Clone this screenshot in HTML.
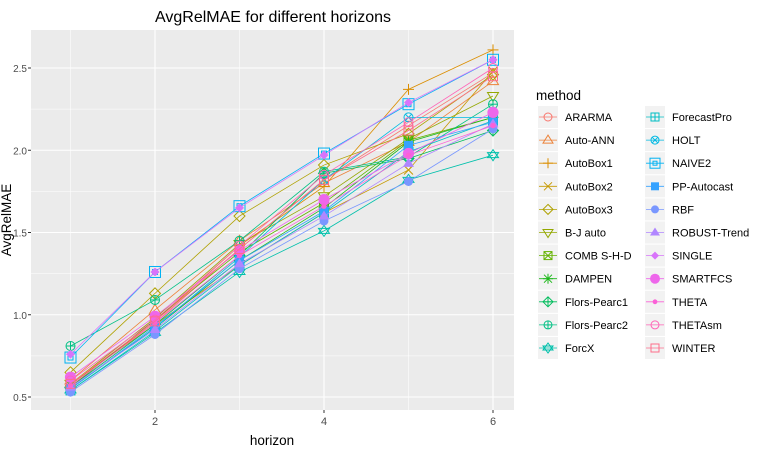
<!DOCTYPE html>
<html><head><meta charset="utf-8"><style>
body{margin:0;background:#fff;font-family:"Liberation Sans",sans-serif}
</style></head><body>
<svg id="c" width="777" height="456" xmlns="http://www.w3.org/2000/svg"></svg>
<script>
const methods=["ARARMA","Auto-ANN","AutoBox1","AutoBox2","AutoBox3","B-J auto","COMB S-H-D","DAMPEN","Flors-Pearc1","Flors-Pearc2","ForcX","ForecastPro","HOLT","NAIVE2","PP-Autocast","RBF","ROBUST-Trend","SINGLE","SMARTFCS","THETA","THETAsm","WINTER"];
const horizons=[1,2,3,4,5,6];
const s_ARARMA=[0.58,0.95,1.40,1.82,2.15,2.47];
const s_AutoANN=[0.60,1.03,1.45,1.80,2.05,2.42];
const s_AutoBox1=[0.57,0.96,1.42,1.78,2.37,2.61];
const s_AutoBox2=[0.58,0.94,1.30,1.62,1.88,2.48];
const s_AutoBox3=[0.65,1.13,1.60,1.91,2.10,2.46];
const s_BJ=[0.58,0.98,1.43,1.72,2.07,2.33];
const s_COMB=[0.56,0.97,1.38,1.68,2.06,2.20];
const s_DAMPEN=[0.55,0.92,1.33,1.65,2.05,2.20];
const s_FP1=[0.56,0.94,1.36,1.86,1.95,2.12];
const s_FP2=[0.81,1.09,1.45,1.87,1.96,2.28];
const s_ForcX=[0.54,0.89,1.26,1.51,1.82,1.97];
const s_ForecastPro=[0.54,0.90,1.30,1.62,1.99,2.18];
const s_HOLT=[0.55,0.92,1.35,1.82,2.20,2.20];
const s_NAIVE2=[0.74,1.26,1.66,1.98,2.28,2.55];
const s_PP=[0.55,0.93,1.33,1.63,2.03,2.17];
const s_RBF=[0.53,0.88,1.28,1.57,1.81,2.13];
const s_ROBUST=[0.56,0.91,1.31,1.60,1.92,2.16];
const s_SINGLE=[0.76,1.26,1.65,1.97,2.29,2.55];
const s_SMARTFCS=[0.62,0.99,1.39,1.70,1.98,2.23];
const s_THETA=[0.57,0.95,1.36,1.66,1.97,2.15];
const s_THETAsm=[0.60,0.97,1.42,1.85,2.17,2.50];
const s_WINTER=[0.58,0.96,1.40,1.82,2.12,2.45];
const series=[s_ARARMA,s_AutoANN,s_AutoBox1,s_AutoBox2,s_AutoBox3,s_BJ,s_COMB,s_DAMPEN,s_FP1,s_FP2,s_ForcX,s_ForecastPro,s_HOLT,s_NAIVE2,s_PP,s_RBF,s_ROBUST,s_SINGLE,s_SMARTFCS,s_THETA,s_THETAsm,s_WINTER];
const yTicks=[0.5,1.0,1.5,2.0,2.5];
const xTicks=[2,4,6];
const shapes=["circle","tri","plus","cross","diamond","dtri","sqcross","asterisk","diamplus","circplus","star","sqplus","circcross","sqsq","fsquare","fcircle","ftri","fdiamond","bigcircle","smallcircle","circle","square"];
const palette=["#F8766D","#EC8239","#DB8E00","#C69900","#AFA100","#94A800","#64B200","#1CB81A","#00BD5C","#00C084","#00C0AB","#00BFC4","#00B9E3","#00B2F3","#35A2FF","#7997FF","#B086FF","#D874FA","#EE67EB","#FB61D7","#FF63B6","#FE6D8B"];

const NS="http://www.w3.org/2000/svg";
const svg=document.getElementById('c');
const P={l:31,r:514,t:30,b:410};
const xs=v=>70.5+(v-1)*84.5;
const ys=v=>397-(v-0.5)*164.5;
function el(t,a,p){const e=document.createElementNS(NS,t);for(const k in a)e.setAttribute(k,a[k]);(p||svg).appendChild(e);return e;}
const color=i=>palette[i];
el('rect',{x:P.l,y:P.t,width:P.r-P.l,height:P.b-P.t,fill:'#EBEBEB'});
for(let v=0.75;v<2.7;v+=0.5){const y=ys(v);if(y>P.t&&y<P.b)el('line',{x1:P.l,x2:P.r,y1:y,y2:y,stroke:'#fff','stroke-width':0.55});}
[1,3,5].forEach(v=>el('line',{x1:xs(v),x2:xs(v),y1:P.t,y2:P.b,stroke:'#fff','stroke-width':0.55}));
yTicks.forEach(v=>{const y=ys(v);el('line',{x1:P.l,x2:P.r,y1:y,y2:y,stroke:'#fff','stroke-width':1.1});
 el('line',{x1:P.l-3,x2:P.l,y1:y,y2:y,stroke:'#333','stroke-width':1});
 const t=el('text',{x:P.l-4,y:y+4,'text-anchor':'end','font-size':10,fill:'#4D4D4D'});t.textContent=v.toFixed(1);
 });
xTicks.forEach(v=>{const x=xs(v);el('line',{x1:x,x2:x,y1:P.t,y2:P.b,stroke:'#fff','stroke-width':1.1});
 el('line',{x1:x,x2:x,y1:P.b,y2:P.b+3,stroke:'#333','stroke-width':1});
 const t=el('text',{x:x,y:P.b+15,'text-anchor':'middle','font-size':11,fill:'#4D4D4D'});t.textContent=v;
 });
function shape(g,s,x,y,c,r){
 r=r||4.5;
 const w={stroke:c,fill:'none','stroke-width':1};
 const ln=(a,b,cc,d)=>el('line',Object.assign({x1:a,y1:b,x2:cc,y2:d},w),g);
 const q=r*0.7;
 switch(s){
 case 'circle':el('circle',Object.assign({cx:x,cy:y,r:r},w),g);break;
 case 'tri':el('polygon',Object.assign({points:`${x},${y-r-1} ${x-r-1},${y+r-1} ${x+r+1},${y+r-1}`},w),g);break;
 case 'dtri':el('polygon',Object.assign({points:`${x},${y+r+1} ${x-r-1},${y-r+1} ${x+r+1},${y-r+1}`},w),g);break;
 case 'plus':ln(x-r-1,y,x+r+1,y);ln(x,y-r-1,x,y+r+1);break;
 case 'cross':ln(x-r,y-r,x+r,y+r);ln(x-r,y+r,x+r,y-r);break;
 case 'asterisk':ln(x-r,y-r,x+r,y+r);ln(x-r,y+r,x+r,y-r);ln(x-r-1,y,x+r+1,y);ln(x,y-r-1,x,y+r+1);break;
 case 'diamond':el('polygon',Object.assign({points:`${x},${y-r-1} ${x+r+1},${y} ${x},${y+r+1} ${x-r-1},${y}`},w),g);break;
 case 'diamplus':el('polygon',Object.assign({points:`${x},${y-r-1} ${x+r+1},${y} ${x},${y+r+1} ${x-r-1},${y}`},w),g);ln(x-r-1,y,x+r+1,y);ln(x,y-r-1,x,y+r+1);break;
 case 'circplus':el('circle',Object.assign({cx:x,cy:y,r:r},w),g);ln(x-r,y,x+r,y);ln(x,y-r,x,y+r);break;
 case 'circcross':el('circle',Object.assign({cx:x,cy:y,r:r},w),g);ln(x-q,y-q,x+q,y+q);ln(x-q,y+q,x+q,y-q);break;
 case 'square':el('rect',Object.assign({x:x-r,y:y-r,width:2*r,height:2*r},w),g);break;
 case 'sqcross':el('rect',Object.assign({x:x-r,y:y-r,width:2*r,height:2*r},w),g);ln(x-r,y-r,x+r,y+r);ln(x-r,y+r,x+r,y-r);break;
 case 'sqplus':el('rect',Object.assign({x:x-r,y:y-r,width:2*r,height:2*r},w),g);ln(x-r,y,x+r,y);ln(x,y-r,x,y+r);break;
 case 'sqsq':el('rect',Object.assign({x:x-r-1,y:y-r-1,width:2*r+2,height:2*r+2},w),g);el('rect',Object.assign({x:x-r+2,y:y-r+2,width:2*r-4,height:2*r-4},w),g);break;
 case 'star':el('polygon',Object.assign({points:`${x},${y-r-1} ${x-r-1},${y+r-2} ${x+r+1},${y+r-2}`},w),g);el('polygon',Object.assign({points:`${x},${y+r+1} ${x-r-1},${y-r+2} ${x+r+1},${y-r+2}`},w),g);break;
 case 'fsquare':el('rect',{x:x-r,y:y-r,width:2*r,height:2*r,fill:c},g);break;
 case 'fcircle':el('circle',{cx:x,cy:y,r:r,fill:c},g);break;
 case 'ftri':el('polygon',{points:`${x},${y-r-1} ${x-r-1},${y+r-1} ${x+r+1},${y+r-1}`,fill:c},g);break;
 case 'fdiamond':el('polygon',{points:`${x},${y-r} ${x+r},${y} ${x},${y+r} ${x-r},${y}`,fill:c},g);break;
 case 'bigcircle':el('circle',{cx:x,cy:y,r:r*1.25,fill:c},g);break;
 case 'smallcircle':el('circle',{cx:x,cy:y,r:r*0.6,fill:c},g);break;
 }
}
series.forEach((d,i)=>{
 const c=color(i);
 const g=el('g',{});
 
 
 el('polyline',{points:d.map((v,j)=>xs(horizons[j])+','+ys(v)).join(' '),fill:'none',stroke:c,'stroke-width':0.8},g);
 d.forEach((v,j)=>shape(g,shapes[i],xs(horizons[j]),ys(v),c));
});
let t=el('text',{x:273,y:22,'text-anchor':'middle','font-size':16,fill:'#000'});t.textContent='AvgRelMAE for different horizons';

t=el('text',{x:272,y:445,'text-anchor':'middle','font-size':13.5,fill:'#000'});t.textContent='horizon';

t=el('text',{x:0,y:0,'text-anchor':'middle','font-size':13.5,fill:'#000',transform:'translate(11,220) rotate(-90)'});t.textContent='AvgRelMAE';

t=el('text',{x:536,y:100,'font-size':13.5,fill:'#000'});t.textContent='method';

methods.forEach((m,i)=>{
 const col=i<11?0:1,row=i%11;
 const kx=col?655:548,ky=117+row*23.1;
 const g=el('g',{});
 
 
 el('rect',{x:kx-10,y:ky-11,width:20,height:22,fill:'#F2F2F2'},g);
 el('line',{x1:kx-9,x2:kx+9,y1:ky,y2:ky,stroke:color(i),'stroke-width':0.8},g);
 shape(g,shapes[i],kx,ky,color(i),4);
 const tt=el('text',{x:kx+17,y:ky+4,'font-size':11,fill:'#000'},g);tt.textContent=m;
});
</script>
</body></html>
